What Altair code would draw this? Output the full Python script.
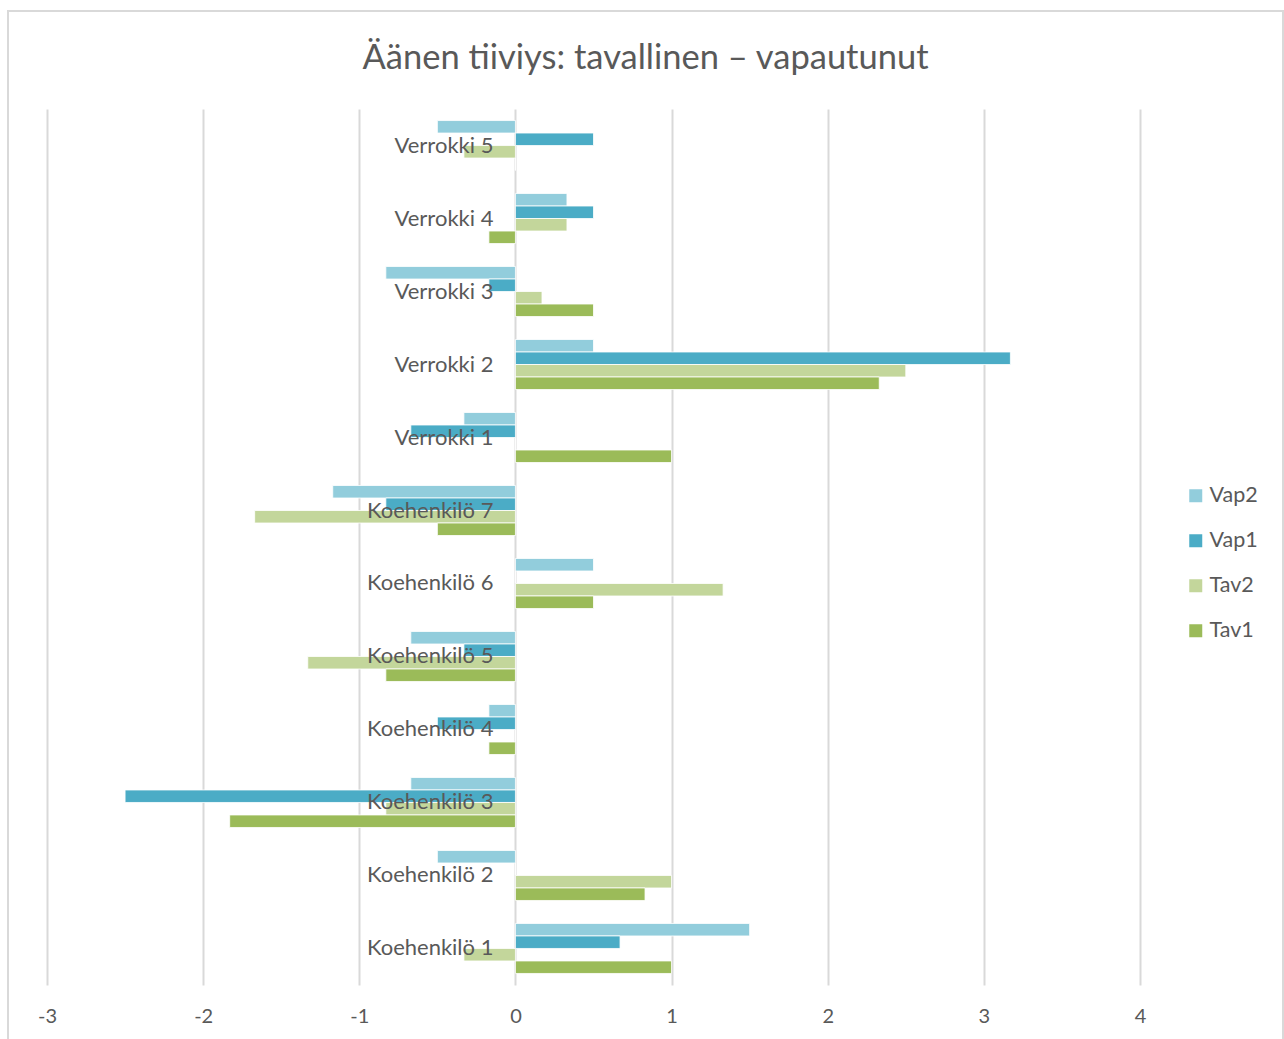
import altair as alt
import pandas as pd

# Categories from top to bottom of the chart
categories = [
    "Verrokki 5", "Verrokki 4", "Verrokki 3", "Verrokki 2", "Verrokki 1",
    "Koehenkilö 7", "Koehenkilö 6", "Koehenkilö 5", "Koehenkilö 4",
    "Koehenkilö 3", "Koehenkilö 2", "Koehenkilö 1",
]
series = ["Vap2", "Vap1", "Tav2", "Tav1"]

vap2 = [-0.5, 0.33, -0.83, 0.5, -0.33, -1.17, 0.5, -0.67, -0.17, -0.67, -0.5, 1.5]
vap1 = [0.5, 0.5, -0.17, 3.17, -0.67, -0.83, 0.0, -0.33, -0.5, -2.5, 0.0, 0.67]
tav2 = [-0.33, 0.33, 0.17, 2.5, 0.0, -1.67, 1.33, -1.33, 0.0, -0.83, 1.0, -0.33]
tav1 = [0.0, -0.17, 0.5, 2.33, 1.0, -0.5, 0.5, -0.83, -0.17, -1.83, 0.83, 1.0]

colors = ["#92CDDC", "#4BACC6", "#C3D69B", "#9BBB59"]
x_ticks = [-3, -2, -1, 0, 1, 2, 3, 4]

rows = []
for name, vals in zip(series, [vap2, vap1, tav2, tav1]):
    for cat, v in zip(categories, vals):
        rows.append({"kategoria": cat, "sarja": name, "arvo": v})
df = pd.DataFrame(rows)

# Category names sit just left of the zero line
labels = pd.DataFrame({"kategoria": categories, "arvo": [0] * len(categories)})

FONT = "Lato"
TEXT = "#595959"

y_scale = alt.Scale(domain=categories, paddingInner=0.315, paddingOuter=0.158)
x_scale = alt.Scale(domain=[-3, 4], nice=False, zero=False)

bars = alt.Chart(df).mark_bar(stroke="white", strokeWidth=0.8).encode(
    x=alt.X("arvo:Q", scale=x_scale,
            axis=alt.Axis(values=x_ticks, title=None, domain=False, ticks=False,
                          grid=True, gridColor="#d9d9d9", gridWidth=2,
                          labelExpr="'' + datum.value", labelFlush=False,
                          labelFont=FONT, labelFontSize=20, labelColor=TEXT,
                          labelPadding=21)),
    y=alt.Y("kategoria:N", scale=y_scale, axis=None),
    yOffset=alt.YOffset("sarja:N", scale=alt.Scale(domain=series, paddingInner=0, paddingOuter=0)),
    color=alt.Color("sarja:N", scale=alt.Scale(domain=series, range=colors),
                    legend=alt.Legend(title=None, orient="none", legendX=1138, legendY=376,
                                      symbolType="square", symbolSize=169,
                                      symbolStrokeWidth=0, labelFont=FONT,
                                      labelFontSize=21.5, labelColor=TEXT,
                                      rowPadding=22, labelOffset=3)),
)

text = alt.Chart(labels).mark_text(
    align="right", baseline="middle", dx=-22, font=FONT, fontSize=22, color=TEXT
).encode(
    x=alt.X("arvo:Q", scale=x_scale),
    y=alt.Y("kategoria:N", scale=y_scale, axis=None),
    text="kategoria:N",
)

frame = alt.Chart(labels).mark_rect(fill="transparent", stroke="#d9d9d9", strokeWidth=1.5).encode(
    x=alt.value(-39), x2=alt.value(1236), y=alt.value(-98), y2=alt.value(940)
)

chart = alt.layer(frame, bars, text).properties(
    width=1093,
    height=876,
    title=alt.Title("Äänen tiiviys: tavallinen – vapautunut", font=FONT, fontSize=34.5,
                    fontWeight="normal", color=TEXT, offset=-66, dx=52),
    padding={"left": 47, "top": 109, "right": 144, "bottom": 54},
    autosize="none",
).configure_view(stroke=None)

chart.save("out.html", embed_options={"renderer": "svg", "actions": False})
